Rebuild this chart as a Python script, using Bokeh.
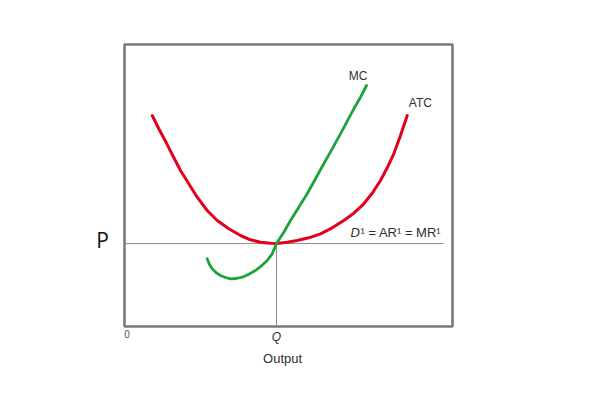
from bokeh.plotting import figure
from bokeh.models import Range1d, Label
from bokeh.embed import file_html
from bokeh.resources import INLINE

# ---- data (output units 0-100, price/cost units 0-100) ----
atc_output = [8.45, 10.46, 12.50, 14.54, 17.07, 19.60, 22.16, 25.21, 28.26, 31.80, 35.37, 38.41,
              41.46, 44.51, 46.34, 49.60, 52.65, 56.19, 59.76, 63.32, 66.86, 69.91, 72.96, 75.52,
              78.05, 80.09, 82.10, 84.15, 86.19]
atc_cost = [74.82, 70.11, 65.71, 60.99, 55.32, 50.60, 45.85, 41.13, 37.59, 34.65, 32.27, 30.74,
            29.89, 29.50, 29.40, 29.89, 30.50, 31.45, 32.87, 35.00, 37.59, 40.18, 43.51, 47.27,
            51.77, 56.28, 61.24, 67.73, 74.82]
mc_output = [25.21, 25.91, 26.74, 27.96, 29.27, 30.79, 32.32, 34.05, 35.88, 37.90, 39.94, 41.77,
             43.51, 45.03, 46.34, 48.57, 50.61, 53.14, 55.70, 58.23, 60.76, 63.32, 65.85, 67.90,
             69.91, 71.95, 73.78]
mc_cost = [24.01, 21.99, 20.46, 19.04, 18.09, 17.38, 16.91, 17.02, 17.48, 18.55, 19.86, 21.52,
           23.40, 25.78, 29.40, 33.44, 37.59, 42.30, 47.06, 52.38, 57.70, 63.01, 68.33, 72.80,
           77.20, 81.31, 85.46]
price_p = 29.4
quantity_q = 46.34
demand_end = 97.3
output_max = 100
price_max = 100

# ---- layout: where the axes box sits on the page (pixels) ----
FIG_W, FIG_H = 600, 396
BOX_L, BOX_R, BOX_T, BOX_B = 124, 452, 44, 326
sx = (BOX_R - BOX_L) / output_max
sy = (BOX_B - BOX_T) / price_max
x_range = Range1d(-BOX_L / sx, (FIG_W - BOX_L) / sx)
y_range = Range1d(-(FIG_H - BOX_B) / sy, BOX_B / sy)

RED = "#e2001a"
GREEN = "#1ea23a"
GRAY = "#8a8a8a"
TEXT = "#2e2e2e"
FONT = "Liberation Sans"

p = figure(width=FIG_W, height=FIG_H, x_range=x_range, y_range=y_range,
           x_axis_type=None, y_axis_type=None,
           output_backend="svg", toolbar_location=None,
           min_border=0)
p.outline_line_color = None
p.background_fill_color = "white"
p.border_fill_color = "white"
p.grid.visible = False

# guide lines (P and Q)
p.line([0, demand_end], [price_p, price_p], line_color=GRAY, line_width=1)
p.line([quantity_q, quantity_q], [0, price_p], line_color=GRAY, line_width=1)

# axes box
p.quad(left=0, right=output_max, bottom=0, top=price_max, fill_color=None,
       line_color="#7a7a7a", line_width=2.6)

# curves
p.line(atc_output, atc_cost, line_color=RED, line_width=3, line_join="round", line_cap="round")
p.line(mc_output, mc_cost, line_color=GREEN, line_width=2.8, line_join="round", line_cap="round")


def lab(x, y, text, size, color=TEXT, font=FONT, style="normal", align="center", x_offset=0):
    p.add_layout(Label(x=x, y=y, text=text, text_align=align, text_baseline="middle",
                       text_font=font, text_font_size=size, text_font_style=style,
                       text_color=color, x_offset=x_offset))


lab(71.2, 89.0, "MC", "12px")
lab(90.2, 79.2, "ATC", "12px")
lab(68.9, 33.2, "D", "13px", style="italic", align="left")
lab(68.9, 33.2, "\u00b9 = AR\u00b9 = MR\u00b9", "13px", align="left", x_offset=10)
lab(-6.7, 30.5, "P", "21px", color="#111111", font="Open Sans")
lab(0.76, -2.66, "0", "10px", color="#555555")
lab(quantity_q, -3.9, "Q", "12px", style="italic")
lab(48.2, -11.3, "Output", "13px")

open("out.html", "w").write(file_html(p, INLINE))
